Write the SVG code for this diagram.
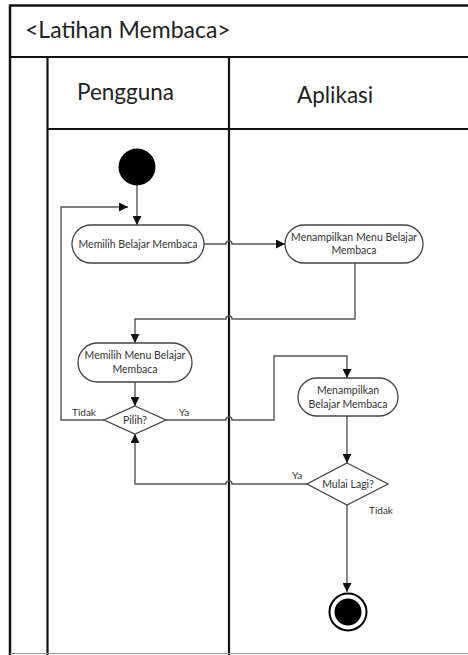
<svg xmlns="http://www.w3.org/2000/svg" width="468" height="655" viewBox="0 0 468 655">
  <style>
    .frame { stroke: #111; stroke-width: 2.5; fill: none; }
    .lane { stroke: #111; stroke-width: 2.2; fill: none; }
    .node { fill: #fff; stroke: #444; stroke-width: 1.3; }
    .flow { fill: none; stroke: #555; stroke-width: 1.4; }
    .title { font-family: Lato, "Open Sans", sans-serif; font-size: 23px; fill: #222; }
    .head { font-family: Lato, "Open Sans", sans-serif; font-size: 22.5px; fill: #222; }
    .lbl { font-family: Lato, "Open Sans", sans-serif; font-size: 10.5px; fill: #333; text-anchor: middle; }
    .guard { font-family: Lato, "Open Sans", sans-serif; font-size: 10px; fill: #333; }
  </style>
  <defs>
    <marker id="arrow" viewBox="0 0 10 10" refX="10" refY="5" markerWidth="9" markerHeight="9" markerUnits="userSpaceOnUse" orient="auto">
      <path d="M0,0 L10,5 L0,10 z" fill="#111"/>
    </marker>
  </defs>

  <rect width="468" height="655" fill="#fff"/>

  <!-- swimlane frame -->
  <g id="swimlanes">
    <line class="frame" x1="10" y1="5.5" x2="468" y2="5.5"/>
    <line class="frame" x1="10" y1="4.5" x2="10" y2="655"/>
    <line class="lane" x1="10" y1="57" x2="468" y2="57"/>
    <line class="lane" x1="47" y1="129" x2="468" y2="129"/>
    <line class="lane" x1="47.5" y1="57" x2="47.5" y2="655"/>
    <line class="lane" x1="229" y1="57" x2="229" y2="655"/>
    <line x1="10" y1="653.5" x2="468" y2="653.5" stroke="#999" stroke-width="1.2"/>
    <text class="title" x="25" y="38">&lt;Latihan Membaca&gt;</text>
    <text class="head" x="77" y="100">Pengguna</text>
    <text class="head" x="297" y="103">Aplikasi</text>
  </g>

  <!-- connectors -->
  <g id="connectors">
    <line class="flow" x1="137" y1="185" x2="137" y2="225" marker-end="url(#arrow)"/>
    <path class="flow" d="M204,244 H226 a3,3 0 0 1 6,0 H285" marker-end="url(#arrow)"/>
    <path class="flow" d="M355,263 V319 H232 a3,3 0 0 0 -6,0 H135 V343" marker-end="url(#arrow)"/>
    <line class="flow" x1="135" y1="382" x2="135" y2="406" marker-end="url(#arrow)"/>
    <path class="flow" d="M104,420 H61 V207 H128" marker-end="url(#arrow)"/>
    <path class="flow" d="M166,420 H226 a3,3 0 0 1 6,0 H274 V356 H347 V378" marker-end="url(#arrow)"/>
    <line class="flow" x1="347" y1="416" x2="347" y2="463" marker-end="url(#arrow)"/>
    <path class="flow" d="M307,484 H232 a3,3 0 0 0 -6,0 H135 V434" marker-end="url(#arrow)"/>
    <line class="flow" x1="347" y1="505" x2="347" y2="592" marker-end="url(#arrow)"/>
    <text class="guard" x="72" y="416">Tidak</text>
    <text class="guard" x="179" y="416">Ya</text>
    <text class="guard" x="292" y="479">Ya</text>
    <text class="guard" x="369" y="514">Tidak</text>
  </g>

  <g id="start">
    <circle cx="137" cy="167" r="18.5" fill="#000"/>
  </g>

  <g id="memilih-belajar-membaca">
    <rect class="node" x="72" y="225" width="132" height="38" rx="19"/>
    <text class="lbl" x="138" y="247.5">Memilih Belajar Membaca</text>
  </g>

  <g id="menampilkan-menu-belajar-membaca">
    <rect class="node" x="285" y="225" width="138" height="38" rx="19"/>
    <text class="lbl" x="354" y="241">Menampilkan Menu Belajar</text>
    <text class="lbl" x="354" y="254">Membaca</text>
  </g>

  <g id="memilih-menu-belajar-membaca">
    <rect class="node" x="78" y="343" width="114" height="39" rx="19.5"/>
    <text class="lbl" x="135" y="359">Memilih Menu Belajar</text>
    <text class="lbl" x="135" y="373">Membaca</text>
  </g>

  <g id="pilih">
    <polygon class="node" points="135,406 166,420 135,434 104,420"/>
    <text class="lbl" x="135" y="424">Pilih?</text>
  </g>

  <g id="menampilkan-belajar-membaca">
    <rect class="node" x="298" y="378" width="100" height="38" rx="19"/>
    <text class="lbl" x="348" y="394">Menampilkan</text>
    <text class="lbl" x="348" y="408">Belajar Membaca</text>
  </g>

  <g id="mulai-lagi">
    <polygon class="node" points="347,463 388,484 347,505 307,484"/>
    <text class="lbl" x="348" y="488">Mulai Lagi?</text>
  </g>

  <g id="end">
    <circle cx="348" cy="612" r="18.5" fill="#fff" stroke="#000" stroke-width="2"/>
    <circle cx="348" cy="612" r="13.5" fill="#000"/>
  </g>
</svg>
